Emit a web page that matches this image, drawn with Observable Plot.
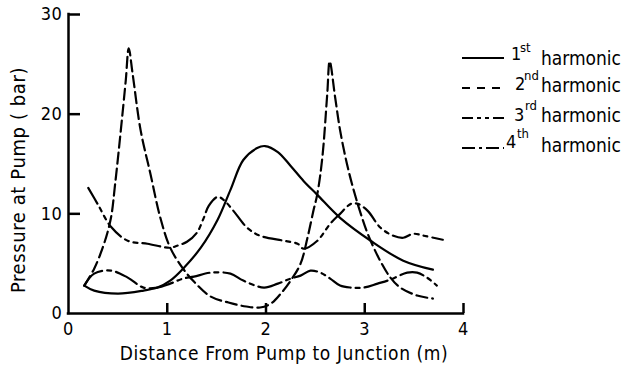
<!DOCTYPE html>
<html><head><meta charset="utf-8">
<script src="https://cdn.jsdelivr.net/npm/d3@7"></script>
<script src="https://cdn.jsdelivr.net/npm/@observablehq/plot@0.6"></script>
<style>
body{margin:0;background:#fff;}
#wrap{position:relative;width:623px;height:366px;overflow:hidden;}
#wrap svg.overlay{position:absolute;left:0;top:0;}
</style></head><body><div id="wrap"></div>
<script>
// ---- data ----
const seriesNames = ["1st harmonic", "2nd harmonic", "3rd harmonic", "4th harmonic"];
const xTicks = [0, 1, 2, 3, 4];
const yTicks = [0, 10, 20, 30];
const xLabel = "Distance From Pump to Junction (m)";
const yLabel = "Pressure at Pump ( bar)";

const h1X = [0.16,0.26,0.5,0.76,0.9,1.03,1.16,1.34,1.51,1.64,1.77,1.91,1.99,2.12,2.25,2.38,2.52,2.75,3.06,3.39,3.69];
const h1Y = [2.8,2.3,2.0,2.3,2.6,3.3,4.5,6.6,9.4,12.4,15.4,16.6,16.8,16.2,14.8,13.3,11.9,9.6,7.3,5.3,4.4];

const h2X = [0.16,0.26,0.36,0.43,0.47,0.53,0.58,0.61,0.65,0.73,0.83,0.93,1.03,1.16,1.27,1.44,1.62,1.8,1.94,2.05,2.15,2.25,2.35,2.42,2.48,2.52,2.57,2.62,2.645,2.70,2.75,2.82,2.89,2.96,3.03,3.14,3.26,3.36,3.53,3.69];
const h2Y = [2.8,4.5,7.0,9.6,12.8,18.4,23.4,26.6,24.0,18.4,14.0,9.6,6.6,4.5,3.2,1.7,1.1,0.7,0.6,1.0,2.0,3.3,5.0,7.6,10.3,12.0,15.6,22.0,25.3,21.7,18.4,15.0,12.3,10.0,8.0,5.6,3.6,2.6,1.8,1.5];

const h3X = [0.2,0.3,0.43,0.6,0.8,1.03,1.1,1.2,1.3,1.37,1.42,1.51,1.57,1.67,1.81,1.94,2.18,2.32,2.38,2.52,2.65,2.75,2.86,2.93,3.03,3.16,3.29,3.39,3.49,3.6,3.79];
const h3Y = [12.6,10.9,8.7,7.3,7.0,6.6,6.8,7.2,8.1,9.6,10.8,11.7,11.4,10.3,8.6,7.8,7.3,7.0,6.5,7.3,9.0,10.0,11.0,11.0,10.3,8.6,7.8,7.6,8.0,7.8,7.4];

const h4X = [0.16,0.26,0.43,0.6,0.76,0.9,1.03,1.16,1.27,1.44,1.64,1.77,1.98,2.12,2.25,2.35,2.45,2.55,2.65,2.75,2.86,2.99,3.13,3.26,3.43,3.53,3.63,3.73];
const h4Y = [2.8,4.0,4.3,3.6,2.6,2.6,3.0,3.5,3.7,4.1,4.0,3.3,2.6,3.0,3.5,3.8,4.3,4.1,3.5,2.8,2.6,2.6,3.0,3.4,4.1,4.1,3.6,2.8];

// ---- build table ----
const table = [];
[[h1X,h1Y],[h2X,h2Y],[h3X,h3Y],[h4X,h4Y]].forEach(([xs, ys], k) => {
  xs.forEach((x, i) => table.push({series: seriesNames[k], x, y: ys[i]}));
});

const FONT = "'DejaVu Sans Condensed','DejaVu Sans',sans-serif";
const dashes = [null, "11,5", "18,5,4,5,4,5", "24,5,4,5"];
const legendDashes = [null, "8,7", "11,4,4,4,4,4", "13,4,3,4"];

const lineMarks = seriesNames.map((name, k) => Plot.line(table.filter(d => d.series === name), {
  x: "x", y: "y", stroke: "#000", strokeWidth: 2.2, curve: "catmull-rom",
  strokeDasharray: dashes[k] || undefined
}));

const chart = Plot.plot({
  width: 623, height: 366,
  marginLeft: 68, marginRight: 160, marginTop: 14, marginBottom: 53,
  x: {domain: [0, 4], nice: false},
  y: {domain: [0, 30], nice: false},
  style: {fontFamily: FONT, fontSize: "18px", color: "#000", background: "#fff", fontStretch: "condensed"},
  marks: [
    Plot.axisY(yTicks, {tickSize: 0, tickPadding: 6, label: null, fontSize: 18, fontFamily: FONT}),
    Plot.axisY(yTicks.filter(d => d > 0), {tickSize: 12, dx: 12, strokeWidth: 2.5, tickFormat: () => "", label: null}),
    Plot.axisX(xTicks, {tickSize: 0, tickPadding: 9, label: null, fontSize: 18, fontFamily: FONT}),
    Plot.axisX(xTicks.filter(d => d > 0), {tickSize: 10, dy: -10, strokeWidth: 2.5, tickFormat: () => "", label: null}),
    Plot.ruleX([0], {stroke: "#000", strokeWidth: 2.5, strokeLinecap: "square"}),
    Plot.ruleY([0], {stroke: "#000", strokeWidth: 2.5, strokeLinecap: "square"}),
    ...lineMarks,
    Plot.text([yLabel], {frameAnchor: "left", rotate: -90, dx: -50, dy: 16, textAnchor: "middle", lineAnchor: "middle", fontSize: 20, fontFamily: FONT, text: d => d}),
    Plot.text([xLabel], {frameAnchor: "bottom", dx: 18, dy: 40, textAnchor: "middle", lineAnchor: "middle", fontSize: 19, fontFamily: FONT, text: d => d})
  ]
});
chart.style.letterSpacing = "0.6px";
document.getElementById("wrap").appendChild(chart);

// ---- legend overlay ----
const legendLayout = [
  {num: "1", sup: "st", ly: 58, nx: 511, ny: 60, sx: 520, sy: 52, hy: 65},
  {num: "2", sup: "nd", ly: 88, nx: 515, ny: 90, sx: 524, sy: 80, hy: 92},
  {num: "3", sup: "rd", ly: 118, nx: 514, ny: 121, sx: 525, sy: 110, hy: 122},
  {num: "4", sup: "th", ly: 148, nx: 506, ny: 148, sx: 517, sy: 138, hy: 152}
];
const svg = d3.select("#wrap").append("svg").attr("class", "overlay")
  .attr("width", 623).attr("height", 366)
  .style("font-family", FONT).style("font-stretch", "condensed");
legendLayout.forEach((r, k) => {
  svg.append("line").attr("x1", 462).attr("x2", 504).attr("y1", r.ly).attr("y2", r.ly)
    .attr("stroke", "#000").attr("stroke-width", 2.2)
    .attr("stroke-dasharray", legendDashes[k]);
  svg.append("text").attr("x", r.nx).attr("y", r.ny).attr("font-size", 18).text(r.num);
  svg.append("text").attr("x", r.sx).attr("y", r.sy).attr("font-size", 13).text(r.sup);
  svg.append("text").attr("x", 621).attr("y", r.hy).attr("font-size", 19)
    .attr("text-anchor", "end").text("harmonic");
});
</script></body></html>
